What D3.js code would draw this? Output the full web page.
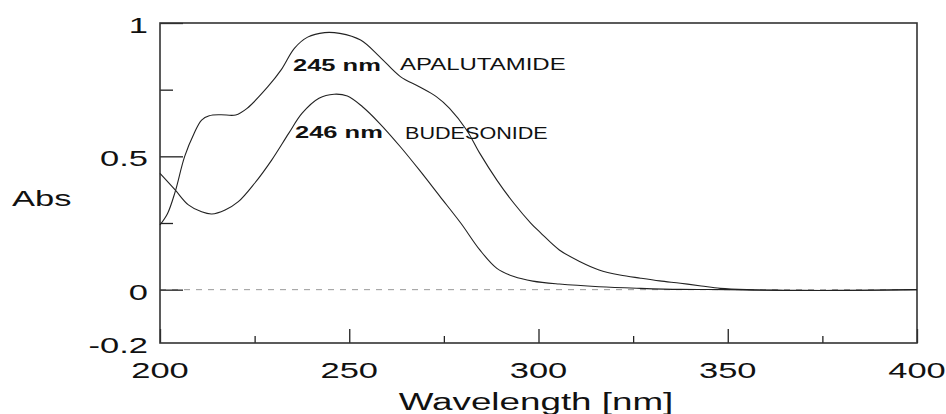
<!DOCTYPE html>
<html lang="en">
<head>
<meta charset="UTF-8">
<title>UV spectra</title>
<style>
  body { margin: 0; background: #fff; }
  text { font-family: "Liberation Sans", Arial, sans-serif; fill: #111; }
</style>
</head>
<body>
<svg id="chart" width="946" height="414"></svg>
<script src="https://cdn.jsdelivr.net/npm/d3@7"></script>
<script>
// wavelength (nm) / absorbance
var apalX = [200, 202, 204, 206.5, 209, 211, 213, 216, 220, 223, 228.5, 232, 235.5, 239, 243.5, 247.5, 253, 258, 263.5, 268.5, 273, 276.5, 281, 284.5, 289, 293.5, 298, 300.5, 305.5, 311, 316, 321.5, 327, 332, 337.5, 343, 348, 355, 365, 375, 385, 400];
var apalY = [0.243, 0.286, 0.367, 0.499, 0.586, 0.636, 0.652, 0.656, 0.655, 0.68, 0.761, 0.824, 0.905, 0.947, 0.964, 0.961, 0.936, 0.874, 0.799, 0.761, 0.724, 0.68, 0.599, 0.511, 0.411, 0.324, 0.249, 0.214, 0.149, 0.105, 0.074, 0.055, 0.043, 0.033, 0.024, 0.014, 0.005, 0.0, -0.002, -0.003, -0.002, 0];

var budX = [200, 204, 207.5, 211, 213.7, 217.2, 220.7, 225, 229.5, 234, 237.5, 242, 246, 249.5, 253.5, 258, 263.5, 268.5, 274, 279.5, 284.5, 289, 293.5, 298.5, 305.5, 316, 327, 337.5, 350, 365, 380, 400];
var budY = [0.436, 0.374, 0.318, 0.292, 0.284, 0.299, 0.33, 0.399, 0.486, 0.586, 0.661, 0.718, 0.733, 0.726, 0.686, 0.624, 0.536, 0.449, 0.349, 0.249, 0.149, 0.08, 0.049, 0.032, 0.021, 0.011, 0.005, 0.001, 0, -0.003, -0.003, 0];

var xTicks = [200, 250, 300, 350, 400];
var xMinor = [225, 275, 325, 375];
var yTicks = [1, 0.5, 0];
var yMinor = [0.75, 0.25];
var yLabels = [1, 0.5, 0, -0.2];

var peaks = [
  { nm: "245 nm", name: "APALUTAMIDE" },
  { nm: "246 nm", name: "BUDESONIDE" }
];

var pLeft = 160, pRight = 917, pTop = 23, pBottom = 343;
var sx = 1.5; // the source picture is stretched sideways

var svg = d3.select('#chart');

var x = d3.scaleLinear().domain([200, 400]).range([pLeft, pRight]);
var y = d3.scaleLinear().domain([-0.2, 1]).range([pBottom, pTop]);

// zero baseline
svg.append('line')
  .attr('x1', pLeft).attr('x2', pRight)
  .attr('y1', y(0)).attr('y2', y(0))
  .attr('stroke', '#999')
  .attr('stroke-dasharray', '6,6');

// ticks pointing inward
svg.append('g').attr('transform', 'translate(0,' + pBottom + ')')
  .call(d3.axisBottom(x).tickValues(xTicks).tickSize(-14).tickFormat(''))
  .call(g => g.select('.domain').remove());
svg.append('g').attr('transform', 'translate(0,' + pBottom + ')')
  .call(d3.axisBottom(x).tickValues(xMinor).tickSize(-7).tickFormat(''))
  .call(g => g.select('.domain').remove());
svg.append('g').attr('transform', 'translate(' + pLeft + ',0)')
  .call(d3.axisLeft(y).tickValues(yTicks).tickSize(-23).tickFormat(''))
  .call(g => g.select('.domain').remove());
svg.append('g').attr('transform', 'translate(' + pLeft + ',0)')
  .call(d3.axisLeft(y).tickValues(yMinor).tickSize(-13).tickFormat(''))
  .call(g => g.select('.domain').remove());
svg.selectAll('.tick line').attr('stroke', '#222').attr('stroke-width', 1.3);

// frame
svg.append('rect')
  .attr('x', pLeft).attr('y', pTop)
  .attr('width', pRight - pLeft).attr('height', pBottom - pTop)
  .attr('fill', 'none')
  .attr('stroke', '#333')
  .attr('stroke-width', 1.6);

// spectra
var line = d3.line()
  .x(d => x(d[0]))
  .y(d => y(d[1]))
  .curve(d3.curveCatmullRom);

svg.append('path')
  .attr('d', line(d3.zip(apalX, apalY)))
  .attr('fill', 'none').attr('stroke', '#222').attr('stroke-width', 1.1);
svg.append('path')
  .attr('d', line(d3.zip(budX, budY)))
  .attr('fill', 'none').attr('stroke', '#222').attr('stroke-width', 1.1);

// stretched text helper
function label(px, py, str, size, anchor, weight, k) {
  svg.append('g')
    .attr('transform', 'translate(' + px + ',' + py + ') scale(' + (k || sx) + ',1)')
    .append('text')
    .attr('text-anchor', anchor)
    .attr('font-size', size)
    .attr('font-weight', weight || 'normal')
    .text(str);
}

yLabels.forEach(v => label(148, y(v) + 10, String(v), 23, 'end'));
xTicks.forEach(v => label(x(v), 378, String(v), 23, 'middle'));

label(12, 206, 'Abs', 23, 'start');
label(536, 410, 'Wavelength [nm]', 23, 'middle', 'normal', 1.6);

label(293, 71, peaks[0].nm, 17, 'start', 'bold');
label(400, 70, peaks[0].name, 16, 'start');
label(295, 138, peaks[1].nm, 17, 'start', 'bold');
label(405, 139, peaks[1].name, 16, 'start', 'normal', 1.35);
</script>
</body>
</html>
